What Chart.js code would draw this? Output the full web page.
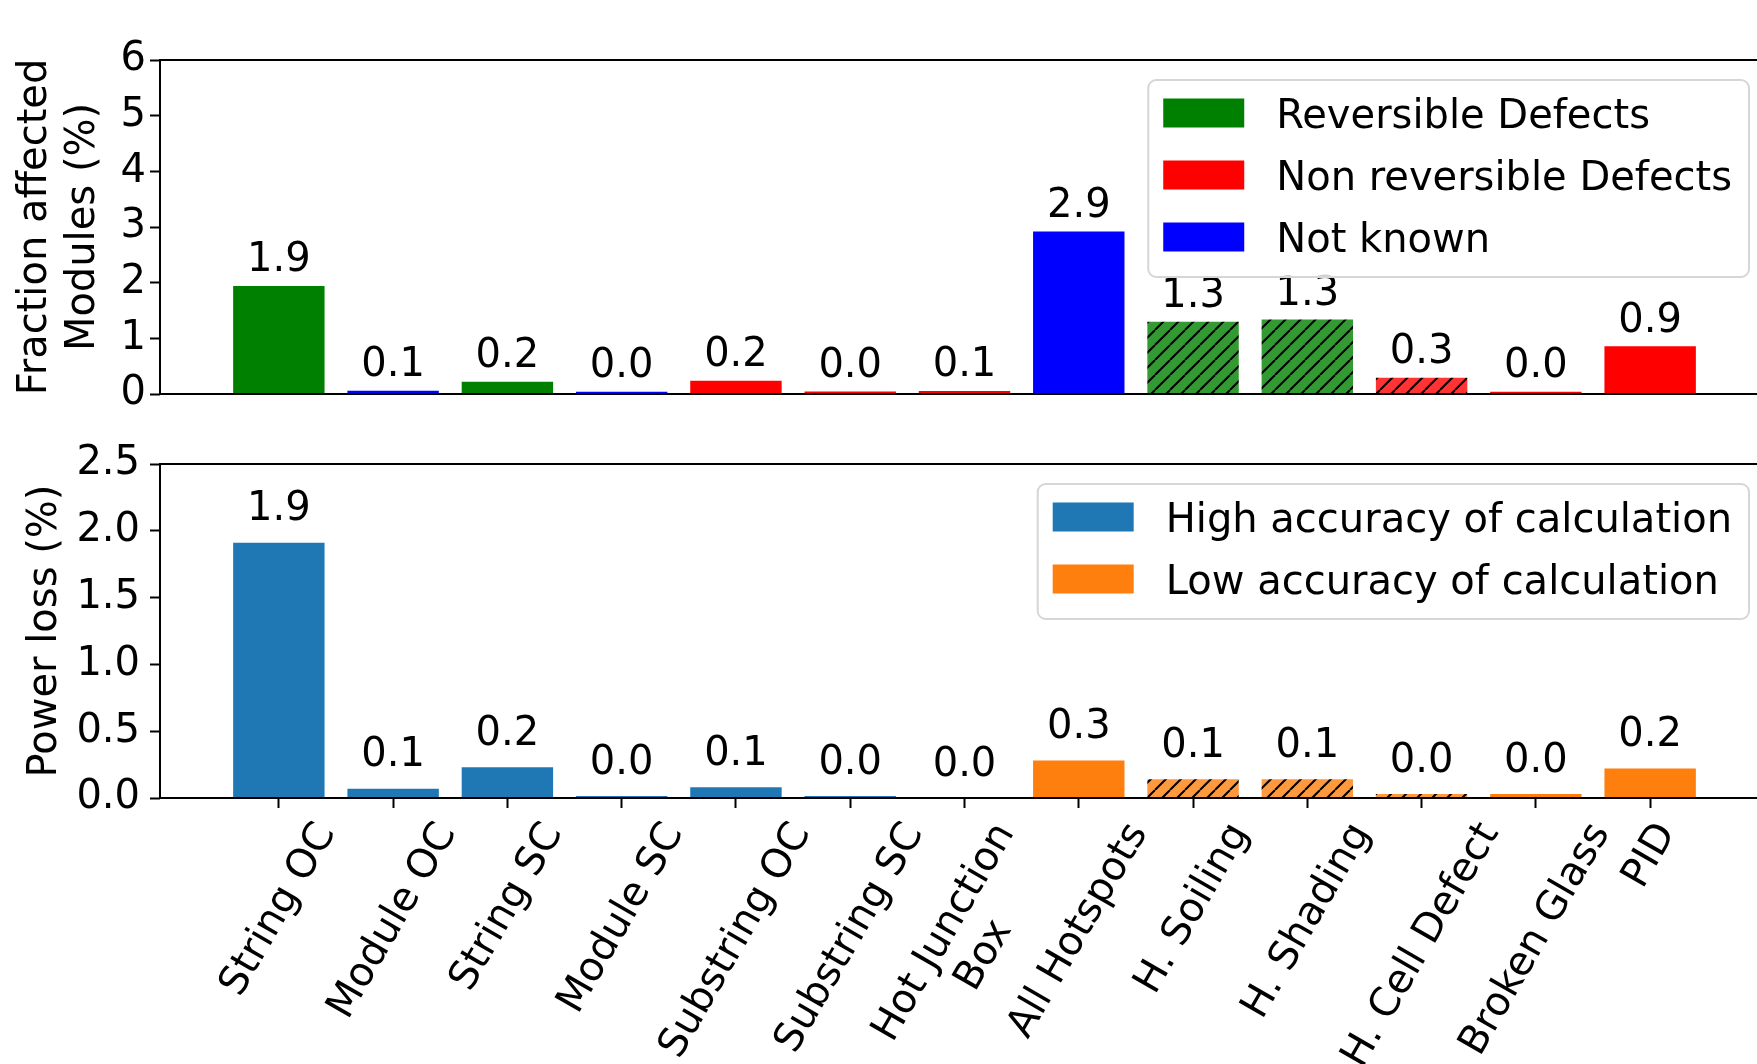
<!DOCTYPE html>
<html>
<head>
<meta charset="utf-8">
<script src="https://cdn.jsdelivr.net/npm/chart.js@4.4.1/dist/chart.umd.min.js"></script>
<style>
html, body { margin: 0; padding: 0; background: #fff; overflow: hidden; }
#wrap { position: relative; width: 1757px; height: 1064px; overflow: hidden; background: #fff; }
#wrap canvas { position: absolute; left: 0; }
#topChart { top: 0; }
#bottomChart { top: 430px; }
</style>
</head>
<body>
<div id="wrap">
  <canvas id="topChart" width="1780" height="430"></canvas>
  <canvas id="bottomChart" width="1780" height="634"></canvas>
</div>
<script>
// ---------------- data ----------------
const categories = ['String OC', 'Module OC', 'String SC', 'Module SC', 'Substring OC', 'Substring SC',
  ['Hot Junction', 'Box'], 'All Hotspots', 'H. Soiling', 'H. Shading', 'H. Cell Defect', 'Broken Glass', 'PID'];
const fractionAffected = [1.94, 0.06, 0.22, 0.04, 0.24, 0.045, 0.055, 2.92, 1.30, 1.34, 0.29, 0.04, 0.86];
const powerLoss = [1.91, 0.07, 0.23, 0.015, 0.08, 0.015, 0.0, 0.28, 0.14, 0.14, 0.03, 0.03, 0.22];
const defectClass = ['rev', 'unknown', 'rev', 'unknown', 'nonrev', 'nonrev', 'nonrev', 'unknown', 'rev', 'rev', 'nonrev', 'nonrev', 'nonrev'];
const accuracyClass = ['high', 'high', 'high', 'high', 'high', 'high', 'high', 'low', 'low', 'low', 'low', 'low', 'low'];
const hatchedTop = [false, false, false, false, false, false, false, false, true, true, true, false, false];
const hatchedBottom = [false, false, false, false, false, false, false, false, true, true, true, false, false];
const defectLegend = ['Reversible Defects', 'Non reversible Defects', 'Not known'];
const defectLegendKeys = ['rev', 'nonrev', 'unknown'];
const accuracyLegend = ['High accuracy of calculation', 'Low accuracy of calculation'];
const accuracyLegendKeys = ['high', 'low'];
const fractionTicks = [0, 1, 2, 3, 4, 5, 6];
const powerTicks = [0, 0.5, 1.0, 1.5, 2.0, 2.5];
const fractionTitle = ['Fraction affected', 'Modules (%)'];
const powerTitle = 'Power loss (%)';

// ---------------- styles ----------------
const FONT = '"DejaVu Sans", "Liberation Sans", sans-serif';
const FS = 40;
Chart.defaults.font.family = FONT;
Chart.defaults.font.size = FS;
Chart.defaults.color = '#000';

const defectColors = { rev: '#008000', nonrev: '#ff0000', unknown: '#0000ff' };
const defectHatchBg = { rev: 'rgb(51,153,51)', nonrev: 'rgb(255,51,51)', unknown: 'rgb(51,51,255)' };
const accuracyColors = { high: '#1f77b4', low: '#ff7f0e' };
const accuracyHatchBg = { high: 'rgb(76,146,195)', low: 'rgb(255,153,62)' };

function hatchPattern(bg) {
  const s = 15;
  const c = document.createElement('canvas');
  c.width = s; c.height = s;
  const g = c.getContext('2d');
  g.fillStyle = bg;
  g.fillRect(0, 0, s, s);
  g.strokeStyle = '#000';
  g.lineWidth = 2;
  g.beginPath();
  for (const k of [-s, 0, s]) { g.moveTo(k, s); g.lineTo(k + s, 0); }
  g.stroke();
  return g.createPattern(c, 'repeat');
}

const topColors = defectClass.map((k, i) => hatchedTop[i] ? hatchPattern(defectHatchBg[k]) : defectColors[k]);
const bottomColors = accuracyClass.map((k, i) => hatchedBottom[i] ? hatchPattern(accuracyHatchBg[k]) : accuracyColors[k]);

// ---------------- plugins ----------------
function drawSpines(chart) {
  const a = chart.chartArea, ctx = chart.ctx;
  ctx.save();
  ctx.strokeStyle = '#000';
  ctx.lineWidth = 2;
  ctx.strokeRect(a.left, a.top, a.right - a.left, a.bottom - a.top);
  ctx.restore();
}

function drawValueLabels(chart, values) {
  const ctx = chart.ctx, ys = chart.scales.y;
  const meta = chart.getDatasetMeta(0);
  ctx.save();
  ctx.font = FS + 'px ' + FONT;
  ctx.fillStyle = '#000';
  ctx.textAlign = 'center';
  ctx.textBaseline = 'alphabetic';
  values.forEach((v, i) => {
    const x = meta.data[i].x;
    const y = ys.getPixelForValue(v + 0.1) - 9;
    ctx.fillText(v.toFixed(1), x, y);
  });
  ctx.restore();
}

function drawLegendBox(chart, labels, colors) {
  const ctx = chart.ctx, a = chart.chartArea;
  ctx.save();
  ctx.font = FS + 'px ' + FONT;
  const maxW = Math.max(...labels.map(t => ctx.measureText(t).width));
  const w = 15 + 81 + 32 + maxW + 17;
  const pitch = 62;
  const h = 33 + (labels.length - 1) * pitch + 40;
  const right = a.right - 20, top = a.top + 20, left = right - w;
  ctx.beginPath();
  ctx.roundRect(left, top, w, h, 8);
  ctx.fillStyle = 'rgba(255,255,255,0.8)';
  ctx.fill();
  ctx.strokeStyle = '#d6d6d6';
  ctx.lineWidth = 2;
  ctx.stroke();
  labels.forEach((t, i) => {
    const cy = top + 33 + i * pitch;
    ctx.fillStyle = colors[i];
    ctx.fillRect(left + 15, cy - 14.5, 81, 29);
    ctx.fillStyle = '#000';
    ctx.textAlign = 'left';
    ctx.textBaseline = 'alphabetic';
    ctx.fillText(t, left + 15 + 81 + 32, cy + 14.5);
  });
  ctx.restore();
}

function drawRotatedXLabels(chart) {
  const ctx = chart.ctx, xs = chart.scales.x, a = chart.chartArea;
  const ang = 60 * Math.PI / 180, c = Math.cos(ang), s = Math.sin(ang);
  const lh = 46, asc = 0.76 * FS, single = FS;
  ctx.save();
  ctx.font = FS + 'px ' + FONT;
  ctx.fillStyle = '#000';
  categories.forEach((lab, i) => {
    const lines = Array.isArray(lab) ? lab : [lab];
    const L = Math.max(...lines.map(t => ctx.measureText(t).width));
    const H = single + (lines.length - 1) * lh;
    const bw = L * c + H * s;
    const tx = xs.getPixelForValue(i);
    const ox = tx - bw / 2;
    const oy = a.bottom + 19 + L * s;
    ctx.save();
    ctx.translate(ox, oy);
    ctx.rotate(-ang);
    ctx.textAlign = 'center';
    ctx.textBaseline = 'alphabetic';
    lines.forEach((t, k) => ctx.fillText(t, L / 2, asc + k * lh));
    ctx.restore();
  });
  ctx.restore();
}

const topPlugin = {
  id: 'topDecor',
  afterDatasetsDraw(chart) {
    drawValueLabels(chart, fractionAffected);
    drawSpines(chart);
    drawLegendBox(chart, defectLegend, defectLegendKeys.map(k => defectColors[k]));
  }
};
const bottomPlugin = {
  id: 'bottomDecor',
  afterDatasetsDraw(chart) {
    drawValueLabels(chart, powerLoss);
    drawSpines(chart);
    drawLegendBox(chart, accuracyLegend, accuracyLegendKeys.map(k => accuracyColors[k]));
  },
  afterDraw(chart) { drawRotatedXLabels(chart); }
};

function yAxis(min, max, tickVals, fmt, title, titlePad, tickPad) {
  return {
    type: 'linear', min: min, max: max,
    afterBuildTicks: ax => { ax.ticks = tickVals.map(v => ({ value: v })); },
    afterFit: ax => { ax.width = 160; },
    ticks: { font: { size: FS }, padding: tickPad, color: '#000', callback: v => fmt(v) },
    grid: { drawOnChartArea: false, drawTicks: true, tickLength: 10, tickWidth: 2, tickColor: '#000' },
    border: { display: false },
    title: { display: true, text: title, color: '#000', font: { size: FS, lineHeight: 1.2 }, padding: { top: titlePad, bottom: 0 } }
  };
}

function xAxis(show, height) {
  return {
    type: 'linear', min: -1.04, max: 13.04, offset: false, display: show,
    afterBuildTicks: ax => { ax.ticks = categories.map((_, i) => ({ value: i })); },
    afterFit: ax => { if (show) ax.height = height; },
    ticks: { display: false },
    grid: { offset: false, drawOnChartArea: false, drawTicks: true, tickLength: 10, tickWidth: 2, tickColor: '#000' },
    border: { display: false }
  };
}

const common = {
  responsive: false, maintainAspectRatio: false, animation: false, events: [],
  plugins: { legend: { display: false }, tooltip: { enabled: false } }
};

new Chart(document.getElementById('topChart'), {
  type: 'bar',
  data: {
    datasets: [{
      data: fractionAffected.map((v, i) => ({ x: i, y: v })),
      backgroundColor: topColors, borderWidth: 0,
      barPercentage: 0.8, categoryPercentage: 1.0
    }]
  },
  options: Object.assign({}, common, {
    layout: { padding: { left: 0, top: 60, right: 11, bottom: 36 } },
    scales: {
      x: xAxis(false, 0),
      y: yAxis(0, 6, fractionTicks, v => String(v), fractionTitle, 12, 4)
    }
  }),
  plugins: [topPlugin]
});

new Chart(document.getElementById('bottomChart'), {
  type: 'bar',
  data: {
    datasets: [{
      data: powerLoss.map((v, i) => ({ x: i, y: v })),
      backgroundColor: bottomColors, borderWidth: 0,
      barPercentage: 0.8, categoryPercentage: 1.0
    }]
  },
  options: Object.assign({}, common, {
    layout: { padding: { left: 0, top: 33, right: 11, bottom: 0 } },
    scales: {
      x: xAxis(true, 266),
      y: yAxis(0, 2.5, powerTicks, v => Number(v).toFixed(1), powerTitle, 22, 10)
    }
  }),
  plugins: [bottomPlugin]
});
</script>
</body>
</html>
